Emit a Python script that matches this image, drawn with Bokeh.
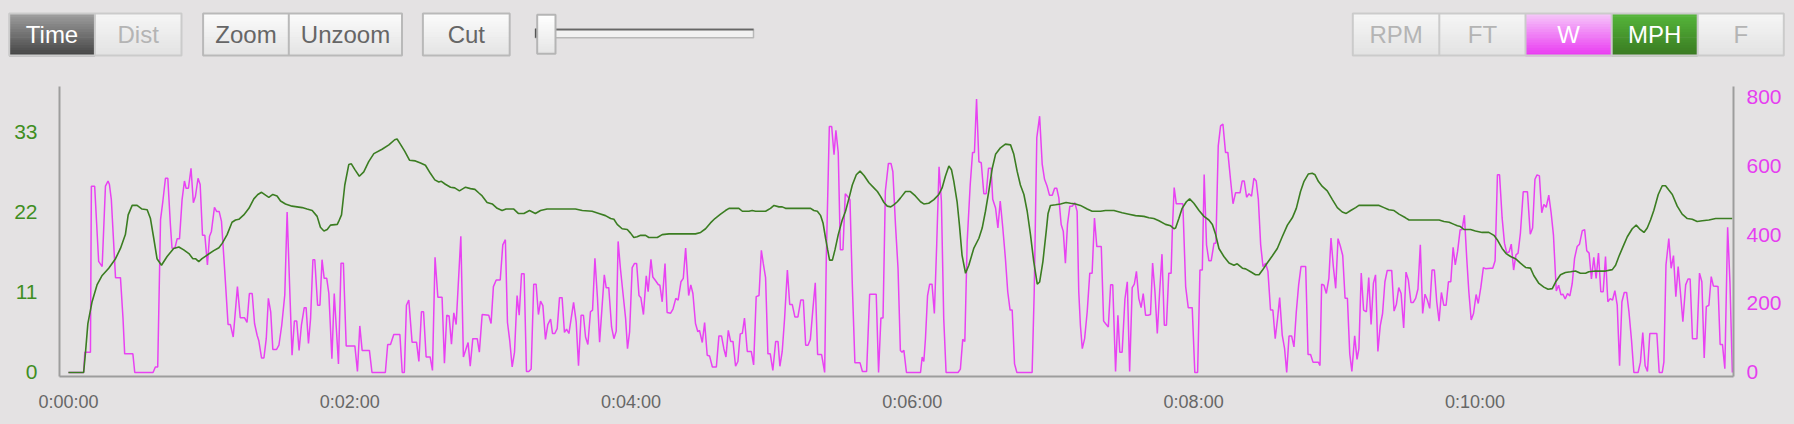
from bokeh.plotting import figure
from bokeh.models import Range1d, LinearAxis, FixedTicker, ColumnDataSource
from bokeh.layouts import column
from bokeh.embed import file_html
from bokeh.resources import INLINE
from bokeh.core.properties import value

# ---------------- data: power (W) as (seconds, watts) ----------------
POWER_0_2 = [(0,0),(6.5,0),(7.0,59),(9.4,59),(9.8,540),(11.2,540),(12.9,322),(14.4,307),(15.8,540),(16.9,555),(17.5,545),(18.3,502),(20.1,275),(22.2,275),(23.3,156),(24.0,54),(27.5,54),(28.3,0),(36.1,0),(37.1,16),(38.1,16),(39.3,443),(40.3,497),(41.4,563),(42.4,563),(43.5,429),(44.2,360),(45.4,360),(46.4,388),(47.4,388),(48.5,502),(49.5,555),(50.2,534),(51.2,534),(52.3,592),(53.3,492),(54.2,511),(55.3,563),(56.2,545),(57.2,398),(58.2,398),(59.3,312),(60.2,395),(61.0,409),(62.3,479),(63.2,467),(64.3,467),(65.3,438),(66.7,293),(68.1,139),(69.1,139),(70.3,103),(72.1,249),(73.3,159),(75.1,159),(76.2,145),(77.2,229),(78.4,229),(79.4,142),(80.5,108),(81.2,93),(82.4,42),(83.4,42),(84.4,98),(85.3,215),(86.3,176),(87.2,67),(88.8,67),(89.8,79),(91.0,137),(92.3,225),(93.3,465),(94.3,264),(95.4,50),(96.4,149),(97.4,149),(98.4,64),(99.4,137),(100.6,188),(101.4,188),(102.4,84),(103.3,156),(104.3,327),(105.1,327),(106.3,195),(107.3,195),(108.2,327),(109.1,273),(110.2,273),(111.1,229),(112.4,40),(113.4,229),(115.2,25),(116.3,317)]
POWER_2_4 = [(117.3,317),(118.5,77),(122.2,77),(123.3,3),(124.3,135),(125.3,64),(128.4,64),(129.5,0),(135.2,0),(136.2,81),(137.4,81),(138.8,110),(141.4,110),(142.4,0),(143.3,0),(144.2,195),(145.2,210),(146.6,88),(148.5,88),(149.5,32),(150.6,176),(151.5,176),(152.6,45),(154.3,45),(155.3,6),(156.4,334),(157.6,218),(159.4,218),(160.4,27),(161.4,166),(162.4,164),(163.4,82),(164.4,173),(165.4,139),(167.4,395),(168.5,45),(170.5,87),(171.4,18),(172.5,98),(174.4,98),(175.3,59),(176.5,168),(179.3,166),(180.3,142),(181.3,249),(182.5,268),(184.2,268),(185.3,370),(186.4,385),(187.3,145),(188.3,90),(189.3,16),(190.3,59),(191.4,223),(192.3,166),(193.3,286),(194.4,286),(195.4,3),(196.4,3),(197.4,10),(198.5,256),(199.5,256),(200.5,168),(201.4,207),(202.4,194),(203.5,96),(204.5,139),(205.7,155),(206.5,113),(207.5,113),(208.5,127),(209.5,217),(210.6,217),(211.6,116),(212.5,126),(213.5,113),(215.5,203),(216.6,147),(217.6,20),(218.7,166),(219.7,166),(220.6,103),(221.6,81),(222.7,176),(223.6,181),(224.6,331),(225.7,214),(226.6,88),(228.6,283),(229.4,246),(230.5,246),(231.7,132),(232.7,98),(233.7,120),(234.5,380),(235.5,300)]
POWER_4_6 = [(236.5,234),(237.7,156),(238.5,69),(239.4,118),(240.5,304),(241.5,316),(242.4,316),(243.4,223),(244.2,217),(245.3,168),(246.5,280),(247.3,234),(248.5,328),(249.3,277),(250.5,266),(251.6,255),(252.3,253),(253.3,205),(254.5,316),(255.4,174),(256.9,172),(257.9,184),(259.1,215),(260.1,210),(261.3,263),(262.3,273),(263.3,361),(264.6,223),(265.5,254),(266.4,229),(267.5,142),(268.5,118),(269.2,122),(270.4,87),(271.4,145),(272.5,50),(273.5,48),(274.7,16),(276.4,16),(277.5,106),(278.6,106),(279.6,69),(280.5,45),(281.5,122),(282.5,90),(283.5,90),(284.6,18),(285.6,32),(286.6,112),(287.5,114),(288.4,158),(289.6,61),(291.3,61),(292.3,22),(293.4,220),(294.6,223),(295.6,354),(296.4,317),(297.4,275),(298.4,54),(299.4,54),(300.5,6),(301.7,90),(302.7,90),(303.5,18),(304.5,61),(305.5,156),(306.7,297),(307.7,197),(308.8,197),(309.9,161),(311.2,161),(312.4,210),(313.5,210),(314.5,79),(315.5,79),(316.5,96),(317.6,185),(318.6,260),(319.6,52),(321.3,52),(322.6,0),(323.3,331),(324.6,713),(325.6,713),(326.6,631),(327.4,702),(328.4,637),(329.3,356),(330.4,356),(331.4,518),(332.4,510),(333.4,501),(334.4,254),(335.5,28),(337.7,28),(338.7,3),(340.5,3),(341.8,227),(344.6,227),(345.6,0),(346.6,158),(347.5,158),(348.5,526),(349.8,606),(350.9,606),(351.7,582),(352.8,430),(353.9,302),(354.9,64)]
POWER_6_8 = [(355.6,59),(356.4,64),(357.5,0),(363.5,0),(364.2,45),(364.9,32),(365.6,98),(366.5,223),(367.4,256),(368.4,256),(369.4,171),(370.4,370),(371.4,596),(372.4,497),(373.4,156),(374.4,0),(379.5,0),(380.5,10),(381.5,96),(382.4,90),(383.4,380),(384.7,545),(385.7,638),(386.5,638),(387.4,793),(388.4,611),(389.4,608),(390.5,518),(391.5,518),(392.5,592),(393.6,592),(394.3,502),(395.5,477),(396.5,419),(397.5,497),(398.6,419),(399.7,331),(400.7,234),(401.7,181),(402.6,181),(403.6,25),(404.6,0),(411.1,0),(412.0,234),(413.1,681),(414.3,743),(415.4,604),(416.4,560),(417.5,540),(418.5,514),(419.7,514),(420.7,534),(421.6,534),(422.5,506),(423.5,429),(424.4,409),(425.3,317),(426.2,430),(427.2,482),(428.2,482),(429.3,492),(430.3,467),(431.0,234),(431.7,137),(432.5,69),(433.5,98),(434.6,176),(435.7,288),(436.7,288),(437.7,448),(438.7,365),(439.6,365),(440.6,365),(441.6,149),(442.4,142),(443.6,132),(444.6,254),(445.5,254),(446.7,3),(447.7,166),(448.5,59),(449.5,59),(450.7,213),(451.7,263),(452.7,3),(453.8,246),(454.7,256),(455.6,293),(456.6,215),(457.6,188),(458.5,229),(459.5,166),(460.6,166),(461.6,168),(462.5,317),(463.5,234),(464.5,113),(465.5,234),(466.5,343),(467.5,137),(468.4,137),(469.4,288),(470.4,288),(470.9,409),(471.7,536),(472.6,489),(474.4,489)]
POWER_8_10 = [(475.4,489),(476.6,249),(477.7,188),(479.4,188),(480.5,0),(481.7,0),(482.7,297),(483.7,297),(484.5,574),(485.5,370),(486.5,324),(487.5,324),(488.7,375),(489.5,375),(490.5,657),(491.5,715),(492.5,720),(493.6,638),(494.6,638),(495.8,555),(496.8,489),(497.9,521),(499.8,521),(500.7,555),(501.6,555),(502.6,508),(503.6,518),(504.7,511),(505.7,563),(506.7,555),(507.6,502),(508.6,370),(509.6,307),(510.7,317),(511.7,293),(512.8,181),(513.8,181),(514.8,98),(515.8,156),(516.7,217),(517.8,108),(518.8,69),(519.7,0),(520.7,106),(521.8,106),(522.8,74),(523.8,176),(524.8,254),(525.8,307),(527.8,307),(528.8,52),(529.9,52),(530.9,30),(533.2,30),(533.9,20),(534.6,256),(535.6,253),(536.6,229),(537.7,273),(538.6,390),(539.6,307),(540.6,244),(541.6,388),(542.6,366),(543.6,339),(544.6,215),(545.6,215),(546.6,54),(547.5,3),(548.7,106),(549.7,38),(550.5,69),(551.5,288),(552.5,181),(553.7,176),(554.7,275),(555.7,139),(556.7,259),(557.6,283),(558.6,61),(559.6,135),(560.6,171),(561.6,263),(562.6,296),(564.5,296),(565.5,178),(566.5,198),(567.5,246),(568.5,229),(569.6,129),(570.6,291),(571.6,268),(572.7,203),(573.7,203),(574.7,215),(575.7,242),(576.7,370),(577.7,171),(578.7,227),(579.7,210),(580.7,186),(581.7,297),(582.7,297),(583.7,205),(584.7,149),(585.7,232),(586.7,195),(587.7,195),(588.7,263),(589.7,263),(590.7,363),(591.6,312),(592.6,351),(593.7,414)]
POWER_10_12 = [(594.5,414),(595.5,456),(596.5,331),(597.4,234),(598.4,152),(599.4,171),(600.5,226),(601.4,200),(602.5,246),(603.6,304),(604.5,301),(606.6,302),(607.6,302),(608.6,324),(609.6,573),(610.5,573),(611.6,448),(612.6,375),(613.6,346),(614.6,350),(615.5,372),(616.5,297),(617.5,341),(618.4,346),(619.4,404),(620.6,524),(622.4,524),(623.6,401),(624.6,419),(625.6,560),(626.5,573),(627.5,570),(628.5,463),(629.4,487),(630.4,479),(631.5,514),(632.5,463),(633.5,398),(634.7,236),(635.7,253),(636.7,225),(637.5,227),(638.5,213),(639.5,229),(640.5,222),(641.5,258),(642.5,331),(643.6,365),(644.6,372),(645.8,411),(646.8,414),(647.7,353),(648.7,346),(649.7,271),(650.7,334),(651.7,273),(652.7,346),(653.7,234),(654.7,234),(655.7,336),(656.7,205),(657.7,214),(658.7,210),(659.7,237),(660.7,195),(661.7,20),(662.7,205),(663.7,232),(664.7,232),(665.7,176),(666.8,93),(667.8,0),(669.6,0),(670.6,30),(671.6,116),(672.6,20),(673.6,3),(674.6,113),(677.6,113),(678.6,0),(679.9,0),(680.6,30),(681.5,312),(682.7,388),(683.7,302),(684.7,339),(685.7,220),(686.7,307),(687.7,229),(688.7,147),(689.9,254),(690.9,271),(691.8,271),(692.8,98),(694.7,98),(695.8,288),(696.8,263),(697.8,42),(698.7,191),(699.8,195),(700.8,278),(701.7,251),(703.7,249),(704.6,81),(705.6,81),(706.6,11),(707.8,421),(708.8,259),(709.8,0)]

# ---------------- data: speed (MPH) as (seconds, mph) ----------------
SPEED_0_2 = [(0,0),(6.5,0),(7.3,2.8),(8.3,6.7),(10.1,9.7),(12.2,12.0),(14.4,13.3),(17.2,14.3),(20.1,15.6),(22.2,17.0),(24.3,18.9),(25.5,21.6),(27.2,22.9),(29.3,22.9),(31.4,22.4),(33.6,22.3),(35.0,21.1),(36.4,18.4),(37.8,15.6),(39.7,14.7),(42.1,15.9),(44.9,17.0),(47.1,17.2),(49.2,16.8),(51.4,16.3),(53.1,15.6),(54.2,15.6),(55.6,15.2),(57.0,15.6),(59.2,16.1),(62.0,16.7),(64.2,17.1),(65.6,17.7),(67.7,18.9),(69.8,20.6),(71.3,20.9),(72.7,21.0),(74.8,21.6),(77.0,22.5),(79.1,23.8),(80.8,24.4),(82.4,24.7),(84.1,24.3),(85.5,24.0),(87.2,24.4),(89.0,24.2),(90.5,23.5),(92.6,23.1),(95.4,22.8),(99.7,22.6),(101.8,22.4),(104.0,22.2),(106.1,21.4),(107.5,19.9),(109.0,19.4),(110.4,19.6),(111.8,20.2),(114.7,20.3),(115.3,20.7),(116.5,21.6)]
SPEED_2_4 = [(117.9,25.7),(119.6,28.5),(120.7,28.6),(122.2,27.8),(124.1,26.9),(126.0,27.5),(128.1,28.9),(130.3,30.0),(133.8,30.6),(136.7,31.2),(139.2,31.9),(140.2,32.0),(141.6,31.3),(143.5,30.3),(145.5,29.1),(148.0,29.0),(150.2,28.7),(152.3,28.4),(154.4,27.3),(156.3,26.4),(158.0,26.1),(159.1,26.2),(160.8,25.8),(163.0,25.4),(164.8,25.3),(166.8,24.9),(169.4,25.4),(171.5,25.2),(173.4,25.1),(175.1,24.6),(176.5,24.2),(178.6,23.3),(180.8,23.1),(182.9,22.5),(185.0,22.2),(186.7,22.4),(190.0,22.4),(191.9,21.8),(194.3,21.8),(196.7,22.2),(199.2,21.8),(201.4,22.2),(204.2,22.4),(210.6,22.4),(216.3,22.4),(219.2,22.2),(223.4,22.1),(226.3,21.8),(229.1,21.5),(231.3,21.1),(232.7,21.0),(234.1,20.3)]
SPEED_4_6 = [(236.2,19.7),(238.4,19.6),(239.8,19.1),(241.2,18.5),(242.6,18.6),(244.1,18.8),(246.2,18.8),(247.6,18.5),(251.2,18.5),(253.3,18.9),(256.2,19.0),(261.9,19.0),(267.5,19.0),(269.7,19.2),(271.8,19.7),(273.9,20.5),(275.8,21.1),(278.2,21.7),(280.3,22.2),(281.8,22.5),(286.0,22.5),(287.5,22.1),(290.3,22.1),(291.7,22.2),(293.1,22.1),(297.4,22.1),(299.5,22.5),(301.0,22.9),(303.1,22.7),(304.5,22.7),(305.9,22.5),(310.2,22.5),(316.6,22.5),(318.0,22.2),(319.5,22.1),(320.9,21.5),(321.9,20.5),(323.0,18.4),(323.9,16.8),(324.7,15.4),(325.9,15.4),(327.0,16.8),(328.4,18.9),(330.1,20.9),(331.5,22.1),(333.0,23.9),(334.4,25.7),(336.1,27.1),(337.7,27.6),(339.4,27.0),(341.5,26.0),(343.6,25.3),(345.1,24.8),(346.5,24.1),(347.9,23.3),(349.3,22.8),(350.8,22.7),(352.2,23.0),(353.6,23.4)]
SPEED_6_8 = [(354.9,23.9),(357.1,24.8),(359.2,24.8),(361.3,24.2),(363.5,23.4),(364.9,23.1),(367.0,23.2),(369.2,23.7),(371.3,24.4),(372.7,25.3),(374.1,26.9),(375.6,28.3),(376.7,27.8),(377.7,26.2),(379.1,23.4),(380.1,20.2),(381.2,16.1),(382.7,13.6),(384.1,14.7),(386.2,17.0),(388.4,18.4),(389.8,19.8),(391.2,22.1),(392.6,24.8),(394.1,28.0),(395.5,29.9),(397.6,30.8),(399.7,31.3),(401.9,31.2),(403.3,29.9),(404.7,27.6),(406.1,25.7),(407.6,24.4),(409.0,22.1),(410.4,18.9),(411.8,15.2),(413.3,12.1),(414.3,12.4),(415.7,15.2),(417.1,19.3),(417.9,21.8),(418.9,22.9),(421.1,23.0),(423.2,23.1),(425.6,23.3),(427.5,23.2),(429.6,23.1),(431.7,22.9),(434.6,22.4),(436.7,22.1),(440.3,22.1),(442.4,22.2),(446.0,22.2),(449.5,21.9),(452.4,21.7),(455.2,21.5),(458.8,21.4),(460.9,21.2),(463.0,21.1),(465.2,20.8),(468.0,20.3),(470.2,20.1),(471.6,19.7)]
SPEED_8_10 = [(472.3,19.8),(473.7,21.1),(475.1,22.5),(476.9,23.4),(478.3,23.8),(480.1,23.2),(482.3,22.2),(484.4,21.4),(486.5,20.9),(488.0,20.3),(489.4,18.9),(490.8,17.0),(492.9,15.9),(495.1,15.0),(497.2,14.7),(498.6,14.9),(500.8,14.3),(502.2,14.2),(504.3,13.8),(506.4,13.4),(507.9,13.4),(509.3,14.0),(511.4,15.0),(513.6,16.0),(515.7,17.0),(517.8,18.6),(520.0,20.2),(522.1,21.2),(523.8,22.5),(525.6,24.8),(527.1,26.2),(528.9,27.2),(530.6,27.3),(531.8,27.1),(533.2,26.2),(534.9,25.5),(537.0,24.9),(539.2,23.7),(541.3,22.6),(543.4,22.0),(545.1,21.8),(547.0,22.2),(549.1,22.6),(550.5,22.9),(553.4,22.9),(559.1,22.9),(561.2,22.6),(563.3,22.3),(565.5,22.2),(567.6,21.7),(570.4,21.2),(571.9,20.9),(579.0,20.9),(584.7,20.9),(586.8,20.7),(589.0,20.6),(591.1,20.3),(592.5,20.1)]
SPEED_10_12 = [(593.8,20.0),(595.3,19.6),(598.1,19.6),(600.2,19.4),(603.1,19.2),(605.9,19.2),(608.1,18.8),(609.5,18.2),(611.6,17.0),(613.3,16.3),(615.2,15.9),(617.3,15.6),(619.4,15.0),(621.6,14.4),(623.7,14.3),(625.1,13.3),(627.3,12.2),(629.4,11.7),(631.2,11.4),(633.0,11.5),(634.4,12.4),(636.5,13.4),(638.6,13.7),(640.8,13.8),(642.9,13.9),(645.0,13.6),(647.2,13.6),(648.6,13.8),(651.4,13.9),(655.7,13.9),(658.6,14.1),(660.0,14.7),(661.4,15.9),(663.5,17.5),(665.0,18.6),(667.1,19.7),(668.8,20.2),(670.2,19.7),(672.1,19.2),(673.5,19.8),(674.9,20.9),(676.3,22.2),(678.2,24.4),(679.9,25.6),(681.3,25.6),(682.7,25.0),(684.2,24.4),(686.3,22.8),(688.4,21.7),(690.6,21.1),(692.7,21.0),(694.8,20.7),(697.0,20.8),(699.8,20.9),(702.7,21.1),(709.8,21.1)]

X_TICKS = [0, 120, 240, 360, 480, 600]
X_TICK_LABELS = ["0:00:00", "0:02:00", "0:04:00", "0:06:00", "0:08:00", "0:10:00"]
MPH_TICKS = [0, 11, 22, 33]
W_TICKS = [0, 200, 400, 600, 800]
LEFT_BUTTONS = ["Time", "Dist"]
ZOOM_BUTTONS = ["Zoom", "Unzoom"]
CUT_BUTTON = ["Cut"]
SERIES_BUTTONS = ["RPM", "FT", "W", "MPH", "F"]

# ---------------- style ----------------
BG = "#e4e2e3"
PINK = "#e842f2"
GREEN = "#3b7d22"
FONT = "Liberation Sans"
W_TOTAL = 1794
TOP_H = 78
MAIN_H = 346

power = [pt for seg in (POWER_0_2, POWER_2_4, POWER_4_6, POWER_6_8, POWER_8_10, POWER_10_12) for pt in seg]
speed = [pt for seg in (SPEED_0_2, SPEED_2_4, SPEED_4_6, SPEED_6_8, SPEED_8_10, SPEED_10_12) for pt in seg]
power_src = ColumnDataSource(dict(t=[a for a, b in power], w=[b for a, b in power]))
speed_src = ColumnDataSource(dict(t=[a for a, b in speed], mph=[b for a, b in speed]))

# ---------------- toolbar-like button bar ----------------
top = figure(width=W_TOTAL, height=TOP_H, x_range=Range1d(0, W_TOTAL), y_range=Range1d(0, TOP_H),
             output_backend="svg", toolbar_location=None, min_border=0,
             x_axis_location=None, y_axis_location=None, frame_align=False,
             background_fill_color=BG, border_fill_color=BG, outline_line_color=None)
top.grid.visible = False


def Y(y):
    return TOP_H - y


def rgb(h):
    return tuple(int(h[i:i + 2], 16) for i in (1, 3, 5))


def gradient(x0, x1, y0, y1, c0, c1, n=16):
    a, b = rgb(c0), rgb(c1)
    h = (y1 - y0) / n
    L, R, T, B, C = [], [], [], [], []
    for i in range(n):
        f = i / (n - 1)
        C.append("#%02x%02x%02x" % tuple(round(a[k] + (b[k] - a[k]) * f) for k in range(3)))
        L.append(x0); R.append(x1)
        T.append(Y(y0 + i * h)); B.append(Y(y0 + (i + 1) * h + 0.7))
    top.quad(left=L, right=R, top=T, bottom=B, fill_color=C, line_color=None)


def frame(x0, x1, y0, y1, color, dividers=()):
    top.quad(left=[x0], right=[x1], top=[Y(y0)], bottom=[Y(y1)], fill_color=None,
             line_color=color, line_width=2)
    if dividers:
        top.segment(x0=list(dividers), x1=list(dividers), y0=[Y(y0)] * len(dividers),
                    y1=[Y(y1)] * len(dividers), line_color=color, line_width=2)


def label(xs, texts, colors):
    top.text(x=xs, y=[Y(34.0)] * len(xs), text=texts, text_color=colors,
             text_font=value(FONT), text_font_size="24px", text_align="center",
             text_baseline="alphabetic")


BY0, BY1 = 13, 55
# Time / Dist
gradient(8.7, 94.4, BY0, BY1, "#9c9c9c", "#474747")
gradient(94.4, 181, BY0, BY1, "#f5f5f5", "#e3e3e3")
frame(8.7, 181, BY0, BY1, "#cbcbcb", (94.4,))
label([51.5, 137.7], LEFT_BUTTONS, ["#ffffff", "#b4b4b4"])
# Zoom / Unzoom
gradient(202.6, 401.5, BY0, BY1, "#fbfbfb", "#e4e4e4")
frame(202.6, 401.5, BY0, BY1, "#b9b9b9", (288.3,))
label([245.5, 345], ZOOM_BUTTONS, ["#666666", "#666666"])
# Cut
gradient(422.4, 509.2, BY0, BY1, "#fbfbfb", "#e4e4e4")
frame(422.4, 509.2, BY0, BY1, "#b9b9b9")
label([465.8], CUT_BUTTON, ["#666666"])
# slider
top.quad(left=[534.7], right=[753], top=[Y(28.5)], bottom=[Y(37.3)], fill_color="#f1f1f1",
         line_color="#b8b8b8", line_width=1.5)
top.quad(left=[534.7], right=[753], top=[Y(28.3)], bottom=[Y(30.0)], fill_color="#666666",
         line_color=None)
top.quad(left=[534.5], right=[536.5], top=[Y(28.3)], bottom=[Y(37.3)], fill_color="#555555",
         line_color=None)
gradient(536.7, 555, 14.3, 53.3, "#ffffff", "#e6e6e6")
frame(536.7, 555, 14.3, 53.3, "#b5b5b5")
# series buttons
sx = [1352.3, 1438.8, 1525.0, 1611.2, 1697.2, 1783.3]
fills = [("#f5f5f5", "#e3e3e3"), ("#f5f5f5", "#e3e3e3"), ("#f5c4f9", "#ea3df2"),
         ("#55b53a", "#3a7b22"), ("#f5f5f5", "#e3e3e3")]
for i in range(5):
    gradient(sx[i], sx[i + 1], BY0, BY1, fills[i][0], fills[i][1])
frame(sx[0], sx[-1], BY0, BY1, "#cbcbcb", tuple(sx[1:-1]))
label([(sx[i] + sx[i + 1]) / 2 for i in range(5)], SERIES_BUTTONS,
      ["#b4b4b4", "#b4b4b4", "#ffffff", "#ffffff", "#b4b4b4"])

# ---------------- main chart ----------------
p = figure(width=W_TOTAL, height=MAIN_H, x_range=Range1d(-3.8, 710.3), y_range=Range1d(-0.55, 39.2),
           output_backend="svg", toolbar_location=None,
           x_axis_location=None, y_axis_location=None, frame_align=False,
           min_border_left=59, min_border_right=61, min_border_top=8, min_border_bottom=48,
           background_fill_color=BG, border_fill_color=BG, outline_line_color=None)
p.grid.visible = False
p.extra_y_ranges = {"w": Range1d(-11.6, 829)}


def style_axis(ax, color, size, standoff):
    ax.axis_line_color = "#9d9d9d"
    ax.axis_line_width = 2
    ax.major_tick_line_color = None
    ax.minor_tick_line_color = None
    ax.major_tick_out = 0
    ax.major_tick_in = 0
    ax.major_label_text_color = color
    ax.major_label_text_font = FONT
    ax.major_label_text_font_size = size
    ax.major_label_standoff = standoff


xaxis = LinearAxis(ticker=FixedTicker(ticks=X_TICKS),
                   major_label_overrides={t: l for t, l in zip(X_TICKS, X_TICK_LABELS)})
style_axis(xaxis, "#676767", "18px", 15)
p.add_layout(xaxis, "below")

laxis = LinearAxis(ticker=FixedTicker(ticks=MPH_TICKS))
style_axis(laxis, "#3f8e22", "21px", 22)
p.add_layout(laxis, "left")

raxis = LinearAxis(y_range_name="w", ticker=FixedTicker(ticks=W_TICKS))
style_axis(raxis, "#e63ef0", "21px", 13)
p.add_layout(raxis, "right")

p.line("t", "w", source=power_src, y_range_name="w", line_color=PINK, line_width=1.5)
p.line("t", "mph", source=speed_src, line_color=GREEN, line_width=1.6)

layout = column(top, p, spacing=0, styles={"background-color": BG})
open("out.html", "w").write(file_html(layout, INLINE))
